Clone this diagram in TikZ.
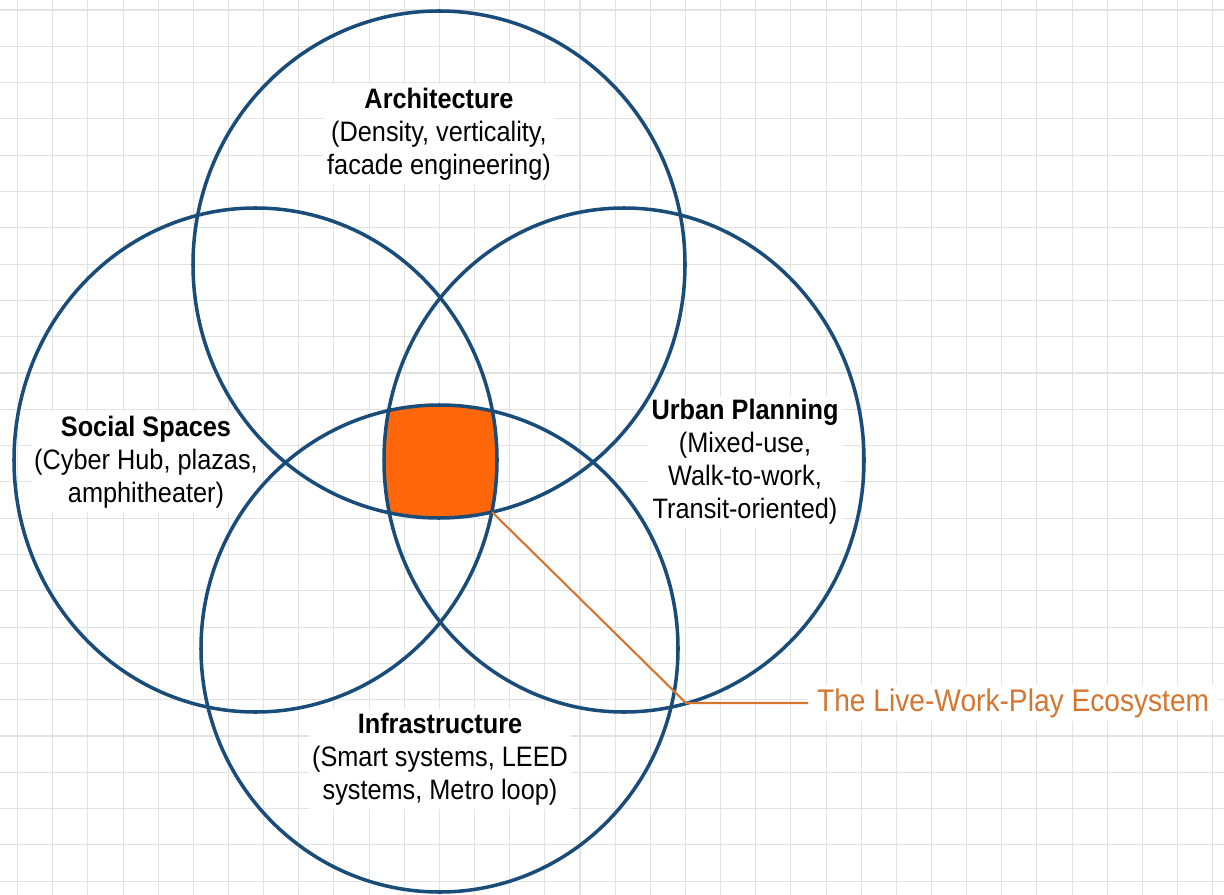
\documentclass[tikz,border=0pt]{standalone}
\usepackage{fontspec}
\setmainfont{Liberation Sans}[FakeStretch=0.9]
\definecolor{ringblue}{RGB}{26,76,122}
\definecolor{coreorange}{RGB}{255,103,10}
\definecolor{leadorange}{RGB}{212,118,48}
\definecolor{gridgray}{RGB}{226,226,226}
\tikzset{
  ring/.style={draw=ringblue, line width=2pt},
  lbl/.style={fill=white, align=center, inner sep=2pt, font=\fontsize{16}{18.8}\selectfont},
  gridline/.style={draw=gridgray, line width=0.6pt}
}
\begin{document}
\begin{tikzpicture}[x=0.02cm,y=-0.02cm]
	\fill[white] (0,0) rectangle (1224,895);
	\useasboundingbox (0,0) rectangle (1224,895);
	% background grid
	\foreach \k in {0,...,34}
		\draw[gridline] ({17.6+35.15*\k},0) -- ({17.6+35.15*\k},895);
	\foreach \k in {0,...,24}
		\draw[gridline] (0,{10+36.3*\k}) -- (1224,{10+36.3*\k});
	% labels
	\node[lbl] (arch) at (439,134) {\textbf{Architecture}\\(Density, verticality,\\facade engineering)};
	\node[lbl] (social) at (146,462) {\textbf{Social Spaces}\\(Cyber Hub, plazas,\\amphitheater)};
	\node[lbl] (urban) at (745,462) {\textbf{Urban Planning}\\(Mixed-use,\\Walk-to-work,\\Transit-oriented)};
	\node[lbl] (infra) at (440,759) {\textbf{Infrastructure}\\(Smart systems, LEED\\systems, Metro loop)};
	% centre overlap
	\begin{scope}
		\clip (439,264.5) ellipse [x radius=246, y radius=253.5];
		\clip (255.5,460) ellipse [x radius=241.5, y radius=252];
		\clip (624,460) ellipse [x radius=240, y radius=252];
		\fill[coreorange] (439.5,648.5) ellipse [x radius=238.5, y radius=243.5];
	\end{scope}
	% rings
	\draw[ring] (439,264.5) ellipse [x radius=246, y radius=253.5];
	\draw[ring] (255.5,460) ellipse [x radius=241.5, y radius=252];
	\draw[ring] (624,460) ellipse [x radius=240, y radius=252];
	\draw[ring] (439.5,648.5) ellipse [x radius=238.5, y radius=243.5];
	% callout
	\coordinate (corner) at (492,512);
	\coordinate (elbow) at (686,703);
	\node[right, fill=white, inner xsep=5pt, inner ysep=2pt, text=leadorange, font=\fontsize{17.8}{20}\selectfont] (eco) at (808,703) {The Live-Work-Play Ecosystem};
	\draw[leadorange, line width=1.2pt] (corner) -- (elbow) -- (eco.west);
\end{tikzpicture}
\end{document}
